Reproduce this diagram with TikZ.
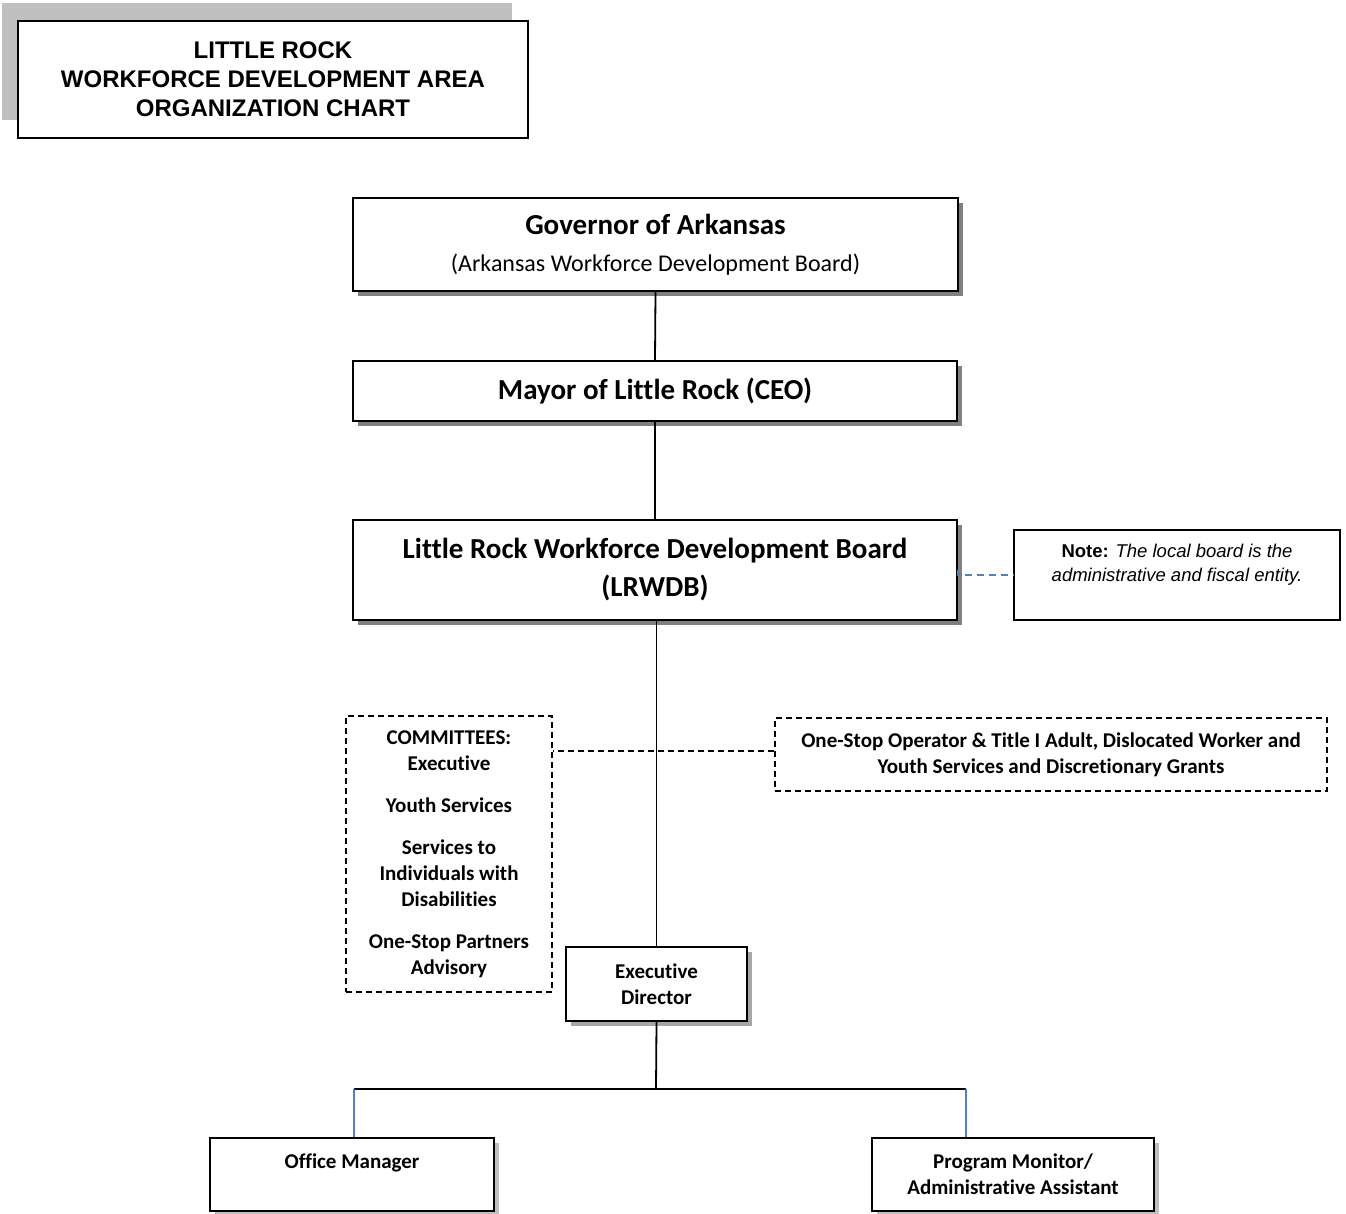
\documentclass[tikz,border=0pt]{standalone}
\usepackage{fontspec}
\setmainfont{Carlito}[RawFeature={-liga;-clig;-calt;-dlig}]
\newfontfamily\arialf{Liberation Sans}
\usetikzlibrary{shadows,calc}
\definecolor{linkblue}{HTML}{4F81BD}
\begin{document}
\begin{tikzpicture}[x=1pt,y=-1pt,
  box/.style={draw=black, line width=1.8pt, fill=white, rectangle, inner sep=0pt, align=center},
  shad/.style={drop shadow={shadow xshift=5pt, shadow yshift=-5pt, opacity=1, fill=#1}},
  dbox/.style={draw=black, line width=1.6pt, dash pattern=on 6pt off 4pt, rectangle, inner sep=0pt, align=center},
  conn/.style={draw=black, line width=1.8pt},
  dconn/.style={draw=black, line width=1.6pt, dash pattern=on 6pt off 4pt},
  bconn/.style={draw=linkblue, line width=1.5pt},
  bdconn/.style={draw=linkblue, line width=1.5pt, dash pattern=on 7pt off 5pt},
  bigb/.style={font=\fontsize{29}{38}\selectfont\bfseries},
  midb/.style={font=\fontsize{21}{26}\selectfont\bfseries}
]
\useasboundingbox (0,0) rectangle (1346,1213);

% title
\node[box, minimum width=510, minimum height=117,
      drop shadow={shadow xshift=-16pt, shadow yshift=18pt, opacity=1, fill=black!25},
      font=\arialf\bfseries\fontsize{24}{29}\selectfont] (title) at (273,79.5)
  {LITTLE ROCK\\WORKFORCE DEVELOPMENT AREA\\ORGANIZATION CHART};

% main chain
\node[box, shad=black!50, minimum width=605, minimum height=93,
      font=\fontsize{24}{37}\selectfont] (gov) at (655.5,244.5)
  {{\fontsize{29}{37}\selectfont\bfseries Governor of Arkansas}\\(Arkansas Workforce Development Board)};
\node[box, shad=black!50, bigb, minimum width=604, minimum height=60] (mayor) at (655,391)
  {Mayor of Little Rock (CEO)};
\node[box, shad=black!50, bigb, minimum width=604, minimum height=100] (lrwdb) at (655,570)
  {Little Rock Workforce Development Board\\(LRWDB)};

% note
\node[box, line width=1.6pt, minimum width=326, minimum height=90,
      font=\arialf\fontsize{18.5}{24}\selectfont] (note) at (1177,575)
  {\textbf{Note:} \textit{The local board is the}\\\textit{administrative and fiscal entity.}\\\mbox{}};

% committees and one-stop
\node[dbox, midb, minimum width=206, minimum height=276] (comm) at (449,854)
  {COMMITTEES:\\Executive\\[16pt]Youth Services\\[16pt]Services to\\Individuals with\\Disabilities\\[16pt]One-Stop Partners\\Advisory};
\node[dbox, midb, minimum width=552, minimum height=73] (onestop) at (1051,754.5)
  {One-Stop Operator \& Title I Adult, Dislocated Worker and\\Youth Services and Discretionary Grants};

% executive director
\node[box, shad=black!35, midb, minimum width=181, minimum height=74] (ed) at (656.5,984)
  {Executive\\Director};

% staff
\node[box, shad=black!25, midb, minimum width=284, minimum height=73] (om) at (352,1174.5)
  {Office Manager\\\mbox{}};
\node[box, shad=black!25, midb, minimum width=282, minimum height=73] (pm) at (1013,1174.5)
  {Program Monitor/\\Administrative Assistant};

% connectors
\draw[conn] (gov.south) -- (mayor.north);
\draw[conn] (mayor.south) -- (lrwdb.north);
\draw[conn] (ed.north |- lrwdb.south) -- (ed.north);
\draw[bdconn] (lrwdb.east) -- (note.west -| lrwdb.east) -- (note.west);
\coordinate (cj) at ($(onestop.west)+(0,-3.5)$);
\draw[dconn] (cj) -- (cj -| comm.east);

\coordinate (j) at (656,1089);
\coordinate (jl) at (354,1089);
\coordinate (jr) at (966,1089);
\draw[conn] (ed.south) -- (j);
\draw[conn] (jl) -- (jr);
\draw[bconn] (jl) -- (jl |- om.north);
\draw[bconn] (jr) -- (jr |- pm.north);
\end{tikzpicture}
\end{document}
